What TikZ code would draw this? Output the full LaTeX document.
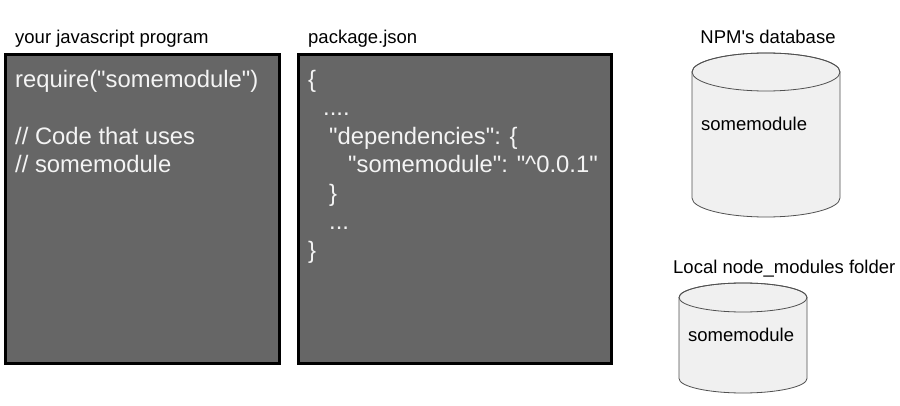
\documentclass[tikz,border=0pt]{standalone}
\usepackage{fontspec}
\setmainfont{Liberation Sans}[Ligatures=TeXOff]
\definecolor{boxgray}{HTML}{666666}
\definecolor{codewhite}{HTML}{F4F4F4}
\definecolor{dbfill}{HTML}{F0F0F0}
\definecolor{dbline}{HTML}{505050}
\newcommand{\fourdots}{....}
\newcommand{\threedots}{...}
\newcommand{\dq}{\symbol{34}}
\begin{document}
\begin{tikzpicture}[x=1pt, y=-1pt,
    codebox/.style={draw=black, line width=3pt, fill=boxgray, anchor=north west, inner sep=0pt},
    codeline/.style={anchor=base west, inner sep=0pt, text=codewhite, font=\fontsize{23.8}{28}\selectfont},
    caption/.style={inner sep=0pt, font=\fontsize{18.5}{22}\selectfont},
    dbtext/.style={anchor=base west, inner sep=0pt, font=\fontsize{18.5}{22}\selectfont},
    dbshape/.style={fill=dbfill, draw=dbline, line width=0.8pt}
]
    \useasboundingbox[fill=white] (0,0) rectangle (900,406);

    % the program
    \node[caption, anchor=base west] (progtitle) at (15,44) {your javascript program};
    \node[codebox, minimum width=274pt, minimum height=309pt] (prog) at (4,53) {};
    \node[codeline] (req) at (15,88) {require(\dq somemodule\dq)};
    \node[codeline] (cmt1) at (15,145) {// Code that uses};
    \node[codeline] (cmt2) at (15,173) {// somemodule};

    % package.json
    \node[caption, anchor=base west] (jsontitle) at (308,44) {package.json};
    \node[codebox, minimum width=313pt, minimum height=309pt] (json) at (297,53) {};
    \foreach \n/\xx/\yy/\txt in {1/308/88/\{, 2/323/116/\fourdots, 3/329/145/{\dq dependencies\dq: \{},
        4/348/173/{\dq somemodule\dq: \dq\textasciicircum 0.0.1\dq}, 5/329/202/\}, 6/329/230/\threedots, 7/308/259/\}}
        \node[codeline] (json-\n) at (\xx,\yy) {\txt};

    % NPM's database
    \node[caption, anchor=base] (npmtitle) at (768,44) {NPM's database};
    \draw[dbshape] (692,72) -- (692,198) arc[start angle=180, end angle=360, x radius=74pt, y radius=19pt]
        -- (840,72) arc[start angle=0, end angle=180, x radius=74pt, y radius=19pt] -- cycle;
    \draw[dbline, line width=0.8pt] (766,72) ellipse [x radius=74pt, y radius=19pt];
    \node[dbtext] (npmmod) at (701,131) {somemodule};

    % local node_modules
    \node[caption, anchor=base west] (localtitle) at (673,274) {Local node\_modules folder};
    \draw[dbshape] (679,297.5) -- (679,378.5) arc[start angle=180, end angle=360, x radius=64pt, y radius=14.5pt]
        -- (807,297.5) arc[start angle=0, end angle=180, x radius=64pt, y radius=14.5pt] -- cycle;
    \draw[dbline, line width=0.8pt] (743,297.5) ellipse [x radius=64pt, y radius=14.5pt];
    \node[dbtext] (localmod) at (688,341) {somemodule};
\end{tikzpicture}
\end{document}
